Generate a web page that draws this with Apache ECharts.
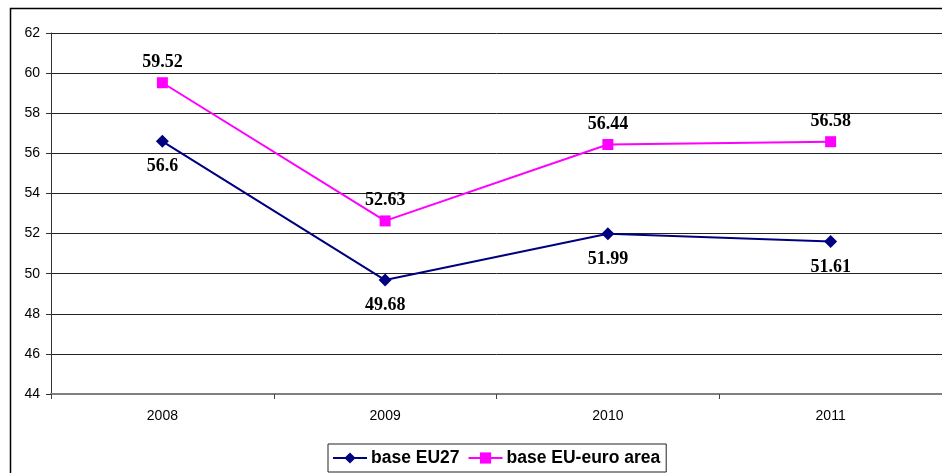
<!DOCTYPE html>
<html>
<head>
<meta charset="utf-8">
<script src="https://cdn.jsdelivr.net/npm/echarts@6/dist/echarts.min.js"></script>
<style>
  html, body { margin: 0; padding: 0; background: #fff; }
  #chart { width: 942px; height: 473px; }
</style>
</head>
<body>
<div id="chart"></div>
<script>
// Years on the category axis
const years = ['2008', '2009', '2010', '2011'];
// Index values per base
const baseEU27 = [56.6, 49.68, 51.99, 51.61];
const baseEuroArea = [59.52, 52.63, 56.44, 56.58];
// Value axis range
const yMin = 44, yMax = 62, yStep = 2;

const chart = echarts.init(document.getElementById('chart'), null, { renderer: 'canvas' });

const labelFont = {
  fontFamily: '"Liberation Serif", "Times New Roman", serif',
  fontWeight: 'bold',
  fontSize: 18,
  color: '#000'
};

chart.setOption({
  animation: false,
  backgroundColor: '#fff',
  graphic: [{
    type: 'rect',
    shape: { x: 10.5, y: 8.5, width: 1000, height: 1000 },
    style: { fill: 'none', stroke: '#000', lineWidth: 1.5 },
    silent: true,
    z: -1
  }],
  grid: { left: 51, right: -3, top: 33, bottom: 79, containLabel: false },
  legend: {
    bottom: 1,
    left: 328,
    data: ['base EU27', 'base EU-euro area'],
    itemWidth: 34,
    itemHeight: 14,
    itemGap: 8,
    padding: [5, 6, 5, 4],
    borderColor: '#222',
    borderWidth: 1,
    textStyle: {
      fontFamily: '"Liberation Sans", Arial, sans-serif',
      fontWeight: 'bold',
      fontSize: 17.5,
      color: '#000',
      padding: [0, 0, 0, -1]
    }
  },
  xAxis: {
    type: 'category',
    data: years,
    boundaryGap: true,
    axisLine: { lineStyle: { color: '#808080', width: 2 } },
    axisTick: { show: true, length: 5, inside: false, lineStyle: { color: '#444' } },
    axisLabel: {
      fontFamily: '"Liberation Sans", Arial, sans-serif',
      fontSize: 14,
      color: '#000',
      margin: 15
    },
    splitLine: { show: false }
  },
  yAxis: {
    type: 'value',
    min: yMin,
    max: yMax,
    interval: yStep,
    axisLine: { show: true, lineStyle: { color: '#333', width: 1 } },
    axisTick: { show: true, length: 5, lineStyle: { color: '#333' } },
    axisLabel: {
      fontFamily: '"Liberation Sans", Arial, sans-serif',
      fontSize: 14,
      color: '#000',
      margin: 11
    },
    splitLine: { show: true, lineStyle: { color: '#222', width: 1 } }
  },
  series: [
    {
      name: 'base EU27',
      type: 'line',
      data: baseEU27,
      color: '#000080',
      lineStyle: { color: '#000080', width: 2 },
      symbol: 'diamond',
      symbolSize: 13,
      itemStyle: { color: '#000080' },
      label: Object.assign({ show: true, position: 'bottom', distance: 10 }, labelFont),
      z: 3
    },
    {
      name: 'base EU-euro area',
      type: 'line',
      data: baseEuroArea,
      color: '#FF00FF',
      lineStyle: { color: '#FF00FF', width: 2 },
      symbol: 'rect',
      symbolSize: 11,
      itemStyle: { color: '#FF00FF' },
      label: Object.assign({ show: true, position: 'top', distance: 6 }, labelFont),
      z: 3
    }
  ]
});
</script>
</body>
</html>
